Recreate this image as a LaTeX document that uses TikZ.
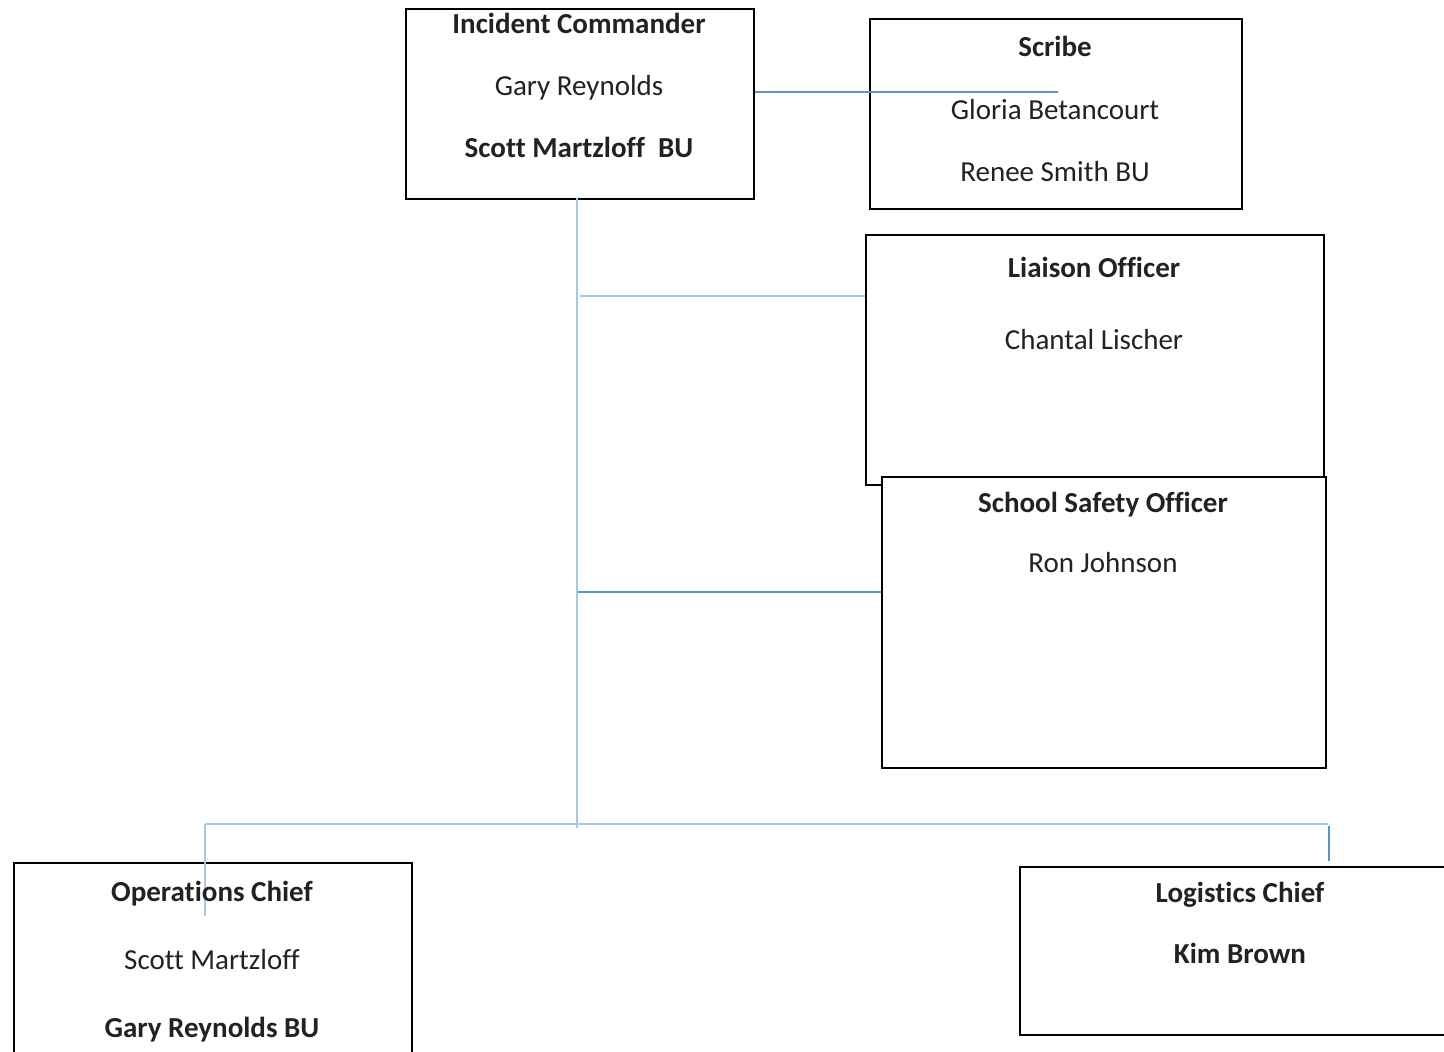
\documentclass[tikz,border=0pt]{standalone}
\usepackage{fontspec}
\setmainfont[Ligatures=NoCommon]{Carlito}
\definecolor{lightline}{HTML}{A9C8E6}
\definecolor{darkline}{HTML}{5B93CD}
\definecolor{txt}{HTML}{222222}
\begin{document}
\begin{tikzpicture}[x=0.5pt,y=-0.5pt,
  box/.style={draw=black,line width=1pt,fill=white,anchor=north west,inner sep=0pt},
  lbl/.style={anchor=base,inner sep=0pt,text=txt,font=\fontsize{14.5}{17}\selectfont},
  blbl/.style={lbl,font=\fontsize{14.5}{17}\selectfont\bfseries},
  light/.style={draw=lightline,line width=1pt},
  dark/.style={draw=darkline,line width=1.2pt}]
\useasboundingbox (0,0) rectangle (1444,1051);
\clip (0,0) rectangle (1444,1051);
% boxes
\node[box,minimum width=174pt,minimum height=95pt] (ic) at (404.5,7.5) {};
\node[box,minimum width=186pt,minimum height=95pt] (scribe) at (868.5,17.5) {};
\node[box,minimum width=229pt,minimum height=125pt] (liaison) at (864.5,233.5) {};
\node[box,minimum width=222pt,minimum height=145.5pt] (safety) at (880.5,475.5) {};
\node[box,minimum width=199pt,minimum height=110pt] (ops) at (12.5,861.5) {};
\node[box,minimum width=240pt,minimum height=84pt] (log) at (1018.5,865.5) {};
% coordinates
\coordinate (icb) at (577,198);
\coordinate (vbot) at (577,828);
\coordinate (jl) at (580,296);
\coordinate (js) at (578,592);
\coordinate (hl) at (205,824);
\coordinate (hr) at (1328,824);
\coordinate (opsin) at (205,916);
\coordinate (logt) at (1329,826);
\coordinate (logb) at (1329,861);
\coordinate (icr) at (755,92);
\coordinate (scrin) at (1058,92);
% connectors
\draw[light] (icb) -- (vbot);
\draw[light] (jl) -- (liaison.west |- jl);
\draw[dark] (js) -- (safety.west |- js);
\draw[light] (hl) -- (hr);
\draw[light] (hl) -- (opsin);
\draw[dark] (logt) -- (logb);
\draw[dark] (icr) -- (scrin);
% texts
\node[blbl] (ic1) at (579,33) {Incident Commander};
\node[lbl] (ic2) at (579,95) {Gary Reynolds};
\node[blbl] (ic3) at (579,157) {Scott Martzloff\ \ BU};
\node[blbl] (sc1) at (1055,56) {Scribe};
\node[lbl] (sc2) at (1055,119) {Gloria Betancourt};
\node[lbl] (sc3) at (1055,181) {Renee Smith BU};
\node[blbl] (li1) at (1094,277) {Liaison Officer};
\node[lbl] (li2) at (1094,349) {Chantal Lischer};
\node[blbl] (sf1) at (1103,512) {School Safety Officer};
\node[lbl] (sf2) at (1103,572) {Ron Johnson};
\node[blbl] (op1) at (212,901) {Operations Chief};
\node[lbl] (op2) at (212,969) {Scott Martzloff};
\node[blbl] (op3) at (212,1037) {Gary Reynolds BU};
\node[blbl] (lg1) at (1240,902) {Logistics Chief};
\node[blbl] (lg2) at (1240,963) {Kim Brown};
\end{tikzpicture}
\end{document}
